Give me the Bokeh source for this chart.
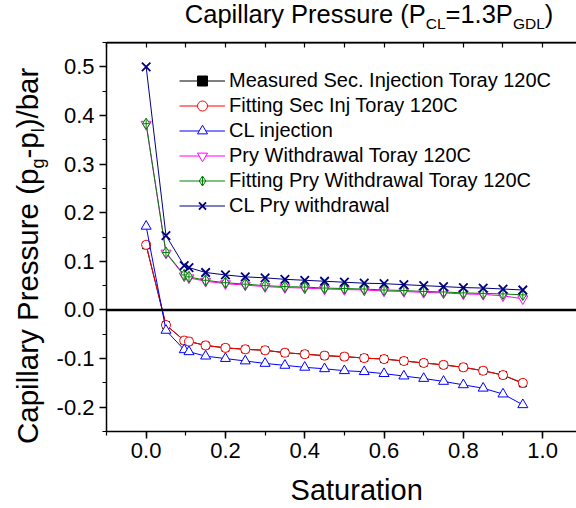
from bokeh.plotting import figure
from bokeh.layouts import column
from bokeh.models import (Range1d, LinearAxis, Span, Legend, LegendItem, Div,
                          SingleIntervalTicker, NumeralTickFormatter, CustomLabelingPolicy)
from bokeh.embed import file_html
from bokeh.resources import INLINE

# ---------------- data ----------------
saturation = [0.0, 0.05, 0.096, 0.108, 0.15, 0.20, 0.25, 0.30, 0.35, 0.40, 0.45,
              0.50, 0.55, 0.60, 0.65, 0.70, 0.75, 0.80, 0.85, 0.90, 0.95]

measured_sec_inj = [0.133, -0.031, -0.063, -0.065, -0.073, -0.078, -0.081, -0.083, -0.088, -0.091,
                    -0.094, -0.096, -0.099, -0.101, -0.105, -0.109, -0.113, -0.118, -0.125, -0.134, -0.151]
fitting_sec_inj = [0.134, -0.031, -0.063, -0.065, -0.073, -0.078, -0.081, -0.083, -0.088, -0.091,
                   -0.094, -0.096, -0.099, -0.101, -0.105, -0.109, -0.113, -0.118, -0.125, -0.134, -0.150]
cl_injection = [0.172, -0.042, -0.082, -0.086, -0.095, -0.100, -0.105, -0.110, -0.114, -0.118,
                -0.121, -0.125, -0.127, -0.131, -0.136, -0.141, -0.147, -0.154, -0.161, -0.173, -0.195]
pry_withdrawal = [0.382, 0.117, 0.070, 0.066, 0.059, 0.054, 0.051, 0.048, 0.046, 0.045,
                  0.043, 0.042, 0.041, 0.039, 0.038, 0.036, 0.035, 0.033, 0.032, 0.029, 0.023]
fitting_pry_withdrawal = [0.383, 0.118, 0.072, 0.068, 0.061, 0.056, 0.053, 0.050, 0.048, 0.047,
                          0.045, 0.044, 0.043, 0.041, 0.040, 0.038, 0.037, 0.035, 0.034, 0.033, 0.031]
cl_pry_withdrawal = [0.500, 0.153, 0.091, 0.087, 0.077, 0.072, 0.068, 0.066, 0.063, 0.061,
                     0.059, 0.057, 0.055, 0.054, 0.052, 0.050, 0.048, 0.046, 0.045, 0.043, 0.041]

series_labels = ["Measured Sec. Injection Toray 120C", "Fitting Sec Inj Toray 120C", "CL injection",
                 "Pry Withdrawal Toray 120C", "Fitting Pry Withdrawal Toray 120C", "CL Pry withdrawal"]
series_values = [measured_sec_inj, fitting_sec_inj, cl_injection,
                 pry_withdrawal, fitting_pry_withdrawal, cl_pry_withdrawal]

x_label = "Saturation"

# ---------------- styles ----------------
styles = [
    dict(color="#000000", marker="square", size=7, fill="#000000", lw=1),
    dict(color="#FF0000", marker="circle", size=9, fill="#FFFFFF", lw=1),
    dict(color="#0000FF", marker="triangle", size=10, fill="#FFFFFF", lw=1),
    dict(color="#FF00FF", marker="inverted_triangle", size=10, fill="#FFFFFF", lw=1),
    dict(color="#008000", marker="diamond_cross", size=11, fill="#FFFFFF", lw=1),
    dict(color="#000080", marker="x", size=12, fill="#FFFFFF", lw=1.8),
]

FONT = "Liberation Sans"
W, H = 576, 508
FRAME_TOP, FRAME_BOTTOM, FRAME_LEFT = 42, 431, 106   # canvas px
Y_MIN, Y_MAX = -0.25, 0.55

p = figure(width=W, height=H, output_backend="svg", toolbar_location=None,
           x_range=Range1d(-0.1, 1.0854), y_range=Range1d(Y_MIN, Y_MAX),
           min_border_left=FRAME_LEFT, min_border_right=0,
           min_border_top=FRAME_TOP, min_border_bottom=H - FRAME_BOTTOM, margin=0)
p.outline_line_color = None
p.grid.visible = False
p.background_fill_color = "white"
p.border_fill_color = "white"

for ax in (p.xaxis[0], p.yaxis[0]):
    ax.axis_line_width = 1.5
    ax.major_tick_line_width = 1.5
    ax.minor_tick_line_width = 1.2
    ax.major_tick_in = 0
    ax.minor_tick_in = 0
    ax.major_tick_out = 7
    ax.minor_tick_out = 4
    ax.major_label_text_font = FONT
    ax.major_label_text_font_size = "22px"
    ax.major_label_text_color = "black"
    ax.formatter = NumeralTickFormatter(format="0.0")

p.xaxis.ticker = SingleIntervalTicker(interval=0.2, num_minor_ticks=2)
p.yaxis.ticker = SingleIntervalTicker(interval=0.1, num_minor_ticks=2)
p.xaxis.major_label_standoff = 4
p.yaxis.major_label_standoff = 5

# top frame line with inward ticks, labels suppressed
top = LinearAxis(ticker=SingleIntervalTicker(interval=0.1, num_minor_ticks=0),
                 major_tick_in=5, major_tick_out=0, minor_tick_in=0, minor_tick_out=0,
                 major_label_text_font_size="0px", major_label_standoff=0,
                 major_label_policy=CustomLabelingPolicy(code="return []"),
                 axis_line_width=1.5, major_tick_line_width=1.2)
p.add_layout(top, "above")
p.add_layout(Span(location=Y_MAX, dimension="width", line_color="black", line_width=2))

p.add_layout(Span(location=0, dimension="width", line_color="black", line_width=2.5))

items = []
for lab, vals, st in zip(series_labels, series_values, styles):
    rl = p.line(saturation, vals, line_color=st["color"], line_width=1)
    rm = p.scatter(saturation, vals, marker=st["marker"], size=st["size"],
                   line_color=st["color"], fill_color=st["fill"], line_width=st["lw"])
    items.append(LegendItem(label=lab, renderers=[rl, rm]))

legend = Legend(items=items, location=(73, FRAME_BOTTOM - 217.5), orientation="vertical",
                border_line_color=None, background_fill_alpha=0, padding=0, margin=0,
                spacing=0, glyph_width=46, glyph_height=25, label_height=25, label_standoff=4,
                label_text_font=FONT, label_text_font_size="20px", label_text_color="black")
p.add_layout(legend)

# ---------------- texts with subscripts: HTML overlay on top of the figure ----------------
ASC = 0.8465   # baseline position inside a line box of line-height 1 (Liberation Sans)
TS, TSS = 25.5, 15.5
YS, YSS = 29.5, 18
XS = 29
base = f"font-family:'{FONT}';line-height:1;white-space:nowrap;color:#000;position:absolute;"
overlay_html = (
    f'<div style="position:relative;width:{W}px;height:{H}px;pointer-events:none;">'
    # title
    f'<span style="{base}left:184.8px;top:{23.5 - ASC * TS:.1f}px;font-size:{TS}px;">'
    f'Capillary Pressure (P<span style="font-size:{TSS}px;vertical-align:-6px;">CL</span>'
    f'=1.3P<span style="font-size:{TSS}px;vertical-align:-6px;">GDL</span>)</span>'
    # y label (rotated)
    f'<span style="{base}left:{37.5 - ASC * YS:.1f}px;top:444px;font-size:{YS}px;'
    f'transform-origin:0 0;transform:rotate(-90deg);">'
    f'Capillary Pressure (p<span style="font-size:{YSS}px;vertical-align:-6px;">g</span>'
    f'-p<span style="font-size:{YSS}px;vertical-align:-6px;">l</span>)/bar</span>'
    # x label
    f'<span style="{base}left:{356.7 - 4.558 * XS / 2:.1f}px;top:{500.5 - ASC * XS:.1f}px;'
    f'font-size:{XS}px;">{x_label}</span>'
    f'</div>'
)
overlay = Div(text=overlay_html, width=W, height=H, margin=(-H, 0, 0, 0))

layout = column(p, overlay, spacing=0, margin=0)

open("out.html", "w").write(file_html(layout, INLINE))
